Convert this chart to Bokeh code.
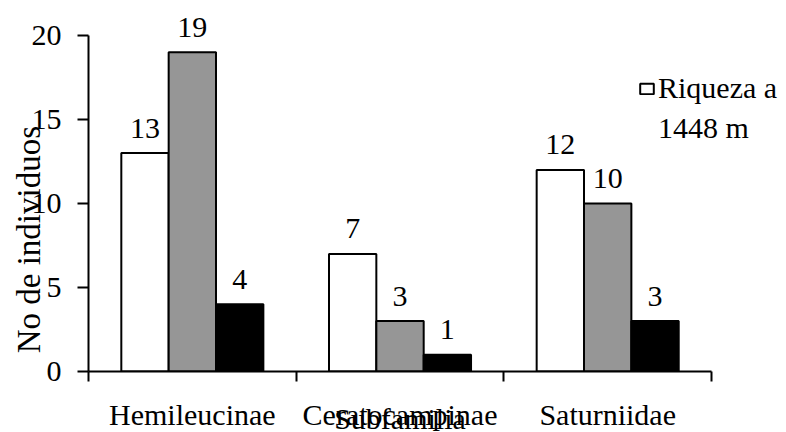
from bokeh.plotting import figure
from bokeh.models import Range1d, FixedTicker, Legend, LegendItem, ColumnDataSource
from bokeh.core.properties import value
from bokeh.embed import file_html
from bokeh.resources import INLINE

# ---- data ----
categories = ["Hemileucinae", "Ceratocampinae", "Saturniidae"]
riqueza_1448 = [13, 7, 12]
serie_gris = [19, 3, 10]
serie_negra = [4, 1, 3]
y_ticks = [0, 5, 10, 15, 20]
legend_lines = ["Riqueza a", "1448 m"]
x_title = "Subfamilia"
y_title = "No de individuos"

FONT = "Liberation Serif"
series = [riqueza_1448, serie_gris, serie_negra]
colors = ["white", "#969696", "black"]
bar_w = 0.228
offsets = [-bar_w, 0.0, bar_w]
n = len(categories)

p = figure(frame_width=698, frame_height=371,
           min_border_left=88, min_border_right=0, min_border_top=0, min_border_bottom=61,
           x_range=Range1d(0, n + 0.361), y_range=Range1d(0, 22.083),
           output_backend="svg", toolbar_location=None)
p.outline_line_color = None
p.xgrid.visible = False
p.ygrid.visible = False
p.background_fill_color = "white"
p.border_fill_color = "white"

renderers = []
for k, vals in enumerate(series):
    xs = [i + 0.5 + offsets[k] for i in range(n)]
    src = ColumnDataSource(dict(x=xs, top=vals, label=[str(v) for v in vals]))
    r = p.vbar(x="x", top="top", bottom=0, width=bar_w, source=src,
               fill_color=colors[k], line_color="black", line_width=2)
    renderers.append(r)
    p.text(x="x", y="top", text="label", source=src,
           text_align="center", text_baseline="alphabetic", y_offset=-25,
           text_font=value(FONT), text_font_size="30px", text_color="black")

# y axis
ya = p.yaxis[0]
ya.ticker = FixedTicker(ticks=y_ticks)
ya.bounds = (0, 20)
ya.axis_line_color = "black"
ya.axis_line_width = 2
ya.major_tick_line_color = "black"
ya.major_tick_line_width = 2
ya.major_tick_out = 11
ya.major_tick_in = 0
ya.minor_tick_line_color = None
ya.major_label_standoff = 16
ya.major_label_text_font = FONT
ya.major_label_text_font_size = "30px"
ya.major_label_text_color = "black"
ya.axis_label = y_title + "\u00a0" * 13
ya.axis_label_text_font = FONT
ya.axis_label_text_font_size = "33px"
ya.axis_label_text_font_style = "normal"
ya.axis_label_text_color = "black"
ya.axis_label_standoff = -18

# x axis
xa = p.xaxis[0]
centers = [i + 0.5 for i in range(n)]
xa.ticker = FixedTicker(ticks=centers, minor_ticks=list(range(n + 1)))
xa.bounds = (0, n)
xa.major_label_overrides = {c: name for c, name in zip(centers, categories)}
xa.axis_line_color = "black"
xa.axis_line_width = 2
xa.major_tick_line_color = None
xa.major_tick_out = 0
xa.major_tick_in = 0
xa.minor_tick_line_color = "black"
xa.minor_tick_line_width = 2
xa.minor_tick_out = 10
xa.minor_tick_in = 0
xa.major_label_standoff = 16
xa.major_label_text_font = FONT
xa.major_label_text_font_size = "30px"
xa.major_label_text_color = "black"
xa.axis_label = x_title + "\u00a0" * 10
xa.axis_label_text_font = FONT
xa.axis_label_text_font_size = "30px"
xa.axis_label_text_font_style = "normal"
xa.axis_label_text_color = "black"
xa.axis_label_standoff = -32

# legend
dummy = p.vbar(x="x", top="top", width=0.1, source=ColumnDataSource(dict(x=[], top=[])),
               fill_alpha=0, line_alpha=0)
legend = Legend(items=[LegendItem(label=legend_lines[0], renderers=[renderers[0]]),
                       LegendItem(label=legend_lines[1], renderers=[dummy])],
                location=(550, 226), orientation="vertical",
                glyph_width=17, glyph_height=13, label_standoff=3,
                label_height=34, spacing=6, padding=0, margin=0,
                border_line_color=None, background_fill_alpha=0,
                label_text_font=FONT, label_text_font_size="30px", label_text_color="black")
p.add_layout(legend, "center")

open("out.html", "w").write(file_html(p, INLINE))
